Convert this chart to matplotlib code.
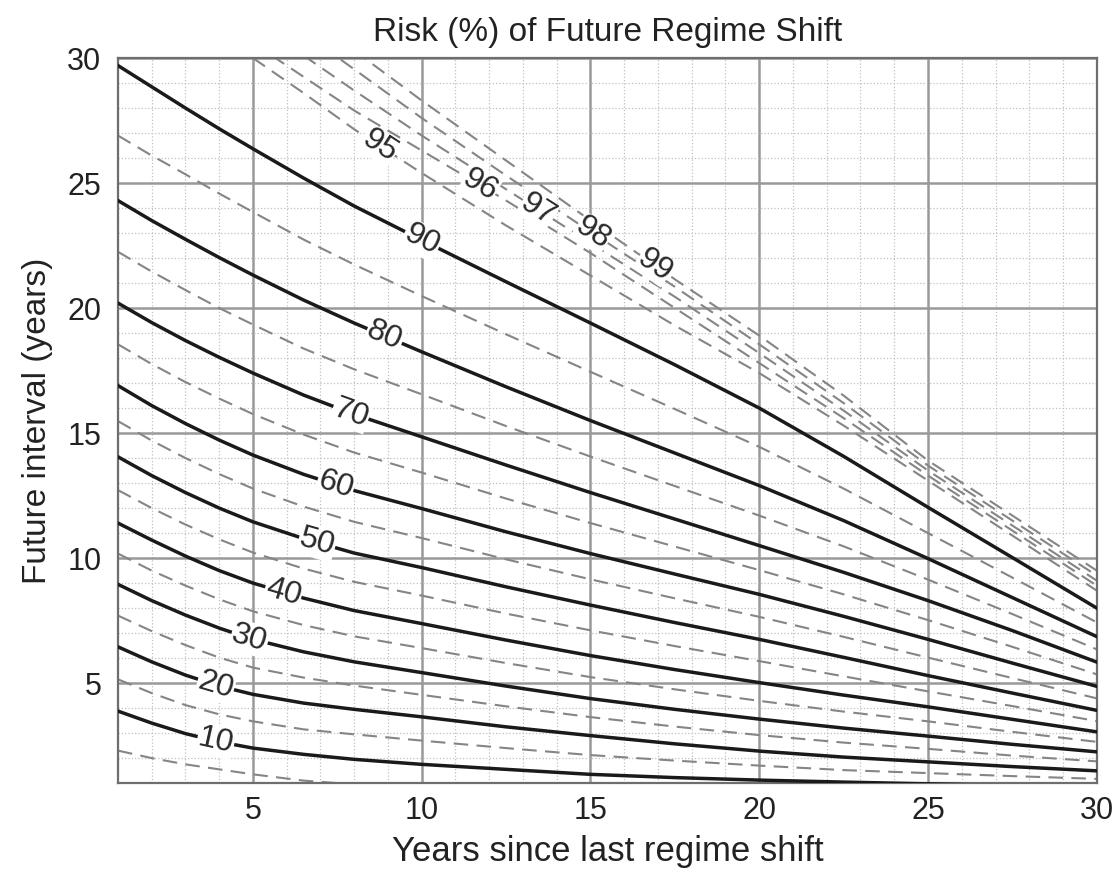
import numpy as np
import matplotlib
matplotlib.use("Agg")
import matplotlib.pyplot as plt
from matplotlib.ticker import MultipleLocator

nan = np.nan

# x positions where each contour was read (years since last shift)
years = [1, 2, 3, 4, 5, 6.5, 8, 10, 12.5, 15, 17.5, 20, 22.5, 25, 27.5, 30]

# solid contours: future interval (years) for a given risk level
risk10 = [3.88, 3.4, 2.98, 2.65, 2.4, 2.15, 1.95, 1.75, 1.55, 1.35, 1.22, 1.12, 1.04, 0.97, 0.9, 0.85]
risk20 = [6.45, 5.85, 5.32, 4.88, 4.55, 4.2, 3.95, 3.65, 3.25, 2.9, 2.57, 2.28, 2.04, 1.85, 1.66, 1.49]
risk30 = [8.95, 8.3, 7.72, 7.2, 6.75, 6.25, 5.85, 5.42, 4.88, 4.38, 3.95, 3.56, 3.2, 2.88, 2.55, 2.25]
risk40 = [11.4, 10.72, 10.08, 9.5, 9.0, 8.4, 7.9, 7.38, 6.72, 6.1, 5.54, 5.02, 4.52, 4.05, 3.55, 3.05]
risk50 = [14.05, 13.3, 12.62, 12.0, 11.45, 10.78, 10.2, 9.62, 8.85, 8.12, 7.42, 6.75, 6.03, 5.3, 4.6, 3.91]
risk60 = [16.9, 16.1, 15.38, 14.72, 14.12, 13.35, 12.7, 11.98, 11.05, 10.18, 9.36, 8.55, 7.67, 6.75, 5.8, 4.87]
risk70 = [20.2, 19.42, 18.7, 18.03, 17.4, 16.52, 15.75, 14.85, 13.72, 12.62, 11.56, 10.5, 9.43, 8.3, 7.1, 5.84]
risk80 = [24.3, 23.5, 22.75, 22.02, 21.32, 20.32, 19.4, 18.25, 16.85, 15.5, 14.2, 12.9, 11.5, 9.98, 8.42, 6.86]
risk90 = [29.7, 28.85, 28.0, 27.17, 26.37, 25.2, 24.08, 22.72, 21.05, 19.4, 17.73, 16.0, 14.07, 12.03, 10.02, 8.0]

# dashed contours in between
risk05 = [2.3, 2.0, 1.75, 1.55, 1.35, 1.1, 0.95, nan, nan, nan, nan, nan, nan, nan, nan, nan]
risk15 = [5.15, 4.6, 4.12, 3.75, 3.47, 3.15, 2.95, 2.7, 2.4, 2.12, 1.9, 1.7, 1.52, 1.4, 1.28, 1.17]
risk25 = [7.7, 7.08, 6.52, 6.02, 5.62, 5.22, 4.9, 4.53, 4.07, 3.64, 3.26, 2.92, 2.62, 2.37, 2.1, 1.87]
risk35 = [10.18, 9.5, 8.9, 8.35, 7.87, 7.32, 6.87, 6.4, 5.8, 5.24, 4.75, 4.29, 3.86, 3.47, 3.05, 2.65]
risk45 = [12.72, 12.0, 11.34, 10.75, 10.22, 9.58, 9.05, 8.5, 7.78, 7.11, 6.48, 5.88, 5.27, 4.67, 4.08, 3.48]
risk55 = [15.48, 14.7, 14.0, 13.36, 12.78, 12.06, 11.45, 10.8, 9.95, 9.15, 8.39, 7.65, 6.85, 6.02, 5.2, 4.39]
risk65 = [18.55, 17.76, 17.04, 16.38, 15.76, 14.94, 14.22, 13.42, 12.38, 11.4, 10.46, 9.52, 8.55, 7.52, 6.45, 5.35]
risk75 = [22.25, 21.46, 20.72, 20.0, 19.34, 18.38, 17.55, 16.55, 15.28, 14.06, 12.88, 11.7, 10.47, 9.14, 7.76, 6.35]
risk85 = [26.9, 26.1, 25.35, 24.58, 23.84, 22.74, 21.74, 20.48, 18.95, 17.45, 15.96, 14.45, 12.78, 11.0, 9.22, 7.43]
risk95 = [nan, nan, nan, nan, 30.0, 28.6, 27.15, 25.4, 23.3, 21.3, 19.3, 17.4, 15.3, 13.1, 10.9, 8.7]
risk96 = [nan, nan, nan, nan, 30.6, 29.25, 27.9, 26.3, 24.3, 22.2, 20.0, 17.8, 15.6, 13.3, 11.1, 8.9]
risk97 = [nan, nan, nan, nan, nan, 30.1, 28.7, 26.9, 24.75, 22.6, 20.45, 18.2, 15.9, 13.5, 11.3, 9.1]
risk98 = [nan, nan, nan, nan, nan, 31.0, 29.55, 27.6, 25.3, 23.05, 20.85, 18.55, 16.2, 13.7, 11.5, 9.3]
risk99 = [nan, nan, nan, nan, nan, nan, 30.3, 28.3, 25.9, 23.5, 21.15, 18.9, 16.5, 13.9, 11.7, 9.5]

solid = {10: risk10, 20: risk20, 30: risk30, 40: risk40, 50: risk50,
         60: risk60, 70: risk70, 80: risk80, 90: risk90}
dashed = {5: risk05, 15: risk15, 25: risk25, 35: risk35, 45: risk45, 55: risk55,
          65: risk65, 75: risk75, 85: risk85, 95: risk95, 96: risk96,
          97: risk97, 98: risk98, 99: risk99}

# where the inline labels sit along each line (x position)
label_at = {10: 3.9, 20: 3.9, 30: 4.9, 40: 5.9, 50: 6.9, 60: 7.45, 70: 7.9,
            80: 8.9, 90: 10.0, 95: 8.76, 96: 11.73, 97: 13.44, 98: 15.07, 99: 16.9}

plt.rcParams['font.family'] = ['Liberation Sans', 'DejaVu Sans']

fig = plt.figure(figsize=(11.18, 8.74), dpi=100)
ax = fig.add_axes([0.1055, 0.104, 0.8755, 0.8296])
ax.set_xlim(1, 30)
ax.set_ylim(1, 30)

ax.xaxis.set_major_locator(MultipleLocator(5))
ax.yaxis.set_major_locator(MultipleLocator(5))
ax.xaxis.set_minor_locator(MultipleLocator(1))
ax.yaxis.set_minor_locator(MultipleLocator(1))
ax.grid(which='major', color='#999999', lw=1.8, zorder=0)
ax.grid(which='minor', color='#c0c0c0', lw=0.9, ls=':', zorder=0)
ax.set_axisbelow(True)

for lvl, ys in dashed.items():
    ax.plot(years, ys, color='#858585', lw=1.5, ls=(0, (7, 4)), zorder=2)
for lvl, ys in solid.items():
    ax.plot(years, ys, color='#1a1a1a', lw=2.5, zorder=3,
            solid_joinstyle='round')

# inline contour labels, rotated along the curve
fig.canvas.draw()
for lvl, xl in label_at.items():
    ys = solid.get(lvl, dashed.get(lvl))
    xs = np.array(years)
    arr = np.array(ys)
    ok = ~np.isnan(arr)
    yl = np.interp(xl, xs[ok], arr[ok])
    p1 = ax.transData.transform((xl - 0.4, np.interp(xl - 0.4, xs[ok], arr[ok])))
    p2 = ax.transData.transform((xl + 0.4, np.interp(xl + 0.4, xs[ok], arr[ok])))
    ang = np.degrees(np.arctan2(p2[1] - p1[1], p2[0] - p1[0]))
    ax.text(xl, yl, str(lvl), rotation=ang, rotation_mode='anchor',
            ha='center', va='center', fontsize=23, color='#2a2a2a', zorder=4,
            bbox=dict(fc='white', ec='none', pad=0.6 if lvl < 95 else 0.05))

ax.tick_params(which='both', length=0, labelsize=22, colors='#222222')
ax.tick_params(axis='x', pad=9)
ax.tick_params(axis='y', pad=12)
for sp in ax.spines.values():
    sp.set_color('#6e6e6e')
    sp.set_linewidth(1.6)

ax.set_title('Risk (%) of Future Regime Shift', fontsize=24, color='#222222', pad=12)
ax.set_xlabel('Years since last regime shift', fontsize=25, color='#222222', labelpad=7)
ax.set_ylabel('Future interval (years)', fontsize=24, color='#222222', labelpad=10)

fig.savefig('out.png', dpi=100)
